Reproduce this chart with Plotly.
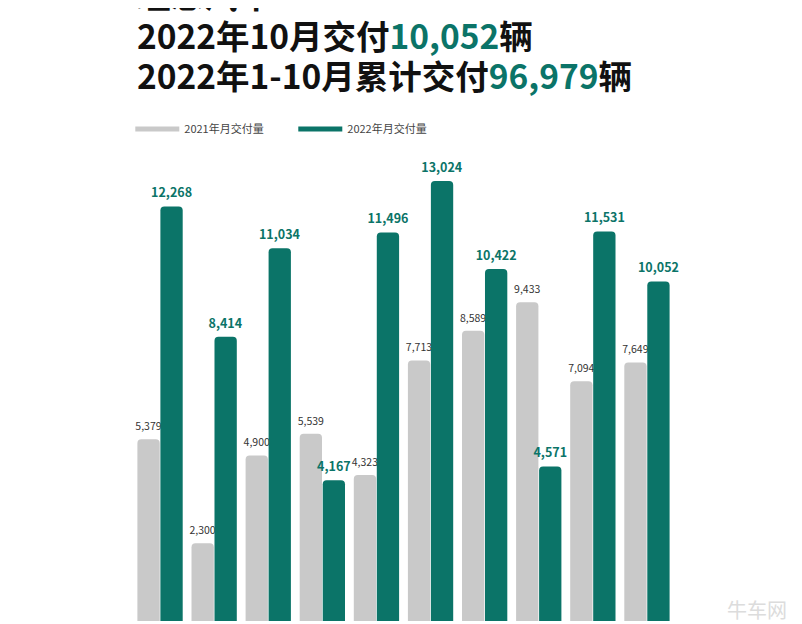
import plotly.graph_objects as go

months = ["1月", "2月", "3月", "4月", "5月", "6月", "7月", "8月", "9月", "10月"]
deliv_2021 = [5379, 2300, 4900, 5539, 4323, 7713, 8589, 9433, 7094, 7649]
deliv_2022 = [12268, 8414, 11034, 4167, 11496, 13024, 10422, 4571, 11531, 10052]
series_names = ["2021年月交付量", "2022年月交付量"]

GRAY = "#c9c9c9"
TEAL = "#0b7468"
FONT = "Noto Sans CJK SC"

def lab(v, size, bold=False):
    s = f"{v:,}"
    if bold:
        s = f"<b>{s}</b>"
    return f"<span style='font-size:{size}px'>{s}</span><br> "

fig = go.Figure()
fig.add_trace(go.Bar(
    x=months, y=deliv_2021, name=series_names[0], showlegend=False,
    marker=dict(color=GRAY, cornerradius=4, line=dict(width=0)),
    text=[lab(v, 10.5) for v in deliv_2021], textposition="outside",
    textfont=dict(family=FONT, size=4, color="#333333"),
    constraintext="none", cliponaxis=False,
))
fig.add_trace(go.Bar(
    x=months, y=deliv_2022, name=series_names[1], showlegend=False,
    marker=dict(color=TEAL, cornerradius=4, line=dict(width=0)),
    text=[lab(v, 12.5, True) for v in deliv_2022], textposition="outside",
    textfont=dict(family=FONT, size=4, color=TEAL),
    constraintext="none", cliponaxis=False,
))
# legend-only line entries
for nm, col in zip(series_names, [GRAY, TEAL]):
    fig.add_trace(go.Scatter(x=[None], y=[None], mode="lines", name=nm,
                             line=dict(color=col, width=5), showlegend=True))

title_lines = [
    "理想汽车",
    f"2022年10月交付<span style='color:{TEAL}'>10,052</span>辆",
    f"2022年1-10月累计交付<span style='color:{TEAL}'>96,979</span>辆",
]
for txt, yp in zip(title_lines, [1.327, 1.241, 1.1563]):
    fig.add_annotation(text=txt, xref="paper", yref="paper", x=0.0037, y=yp,
                       xanchor="left", yanchor="middle", showarrow=False,
                       font=dict(family=FONT, size=33.5, color="#111111", weight=700))

fig.add_annotation(text="牛车网", xref="paper", yref="paper", x=1.153, y=0.025,
                   xanchor="center", yanchor="middle", showarrow=False,
                   font=dict(family=FONT, size=20, color="#dcdcdc"))

fig.update_layout(
    width=802, height=624,
    margin=dict(l=125, r=136, t=140, b=11, autoexpand=False),
    paper_bgcolor="white", plot_bgcolor="white",
    barmode="group", bargap=0.15, bargroupgap=0.03,
    legend=dict(orientation="h", x=-0.005, y=1.04, xanchor="left", yanchor="middle",
                itemwidth=44,
                font=dict(family=FONT, size=11, color="#444444"),
                entrywidth=104, entrywidthmode="pixels", bgcolor="rgba(0,0,0,0)"),
    xaxis=dict(range=[-0.5, 9.5], showticklabels=False, showgrid=False,
               zeroline=False, showline=False, ticks=""),
    yaxis=dict(range=[0, 14000], showticklabels=False, showgrid=False,
               zeroline=False, showline=False, ticks=""),
)

fig.write_html("out.html")
